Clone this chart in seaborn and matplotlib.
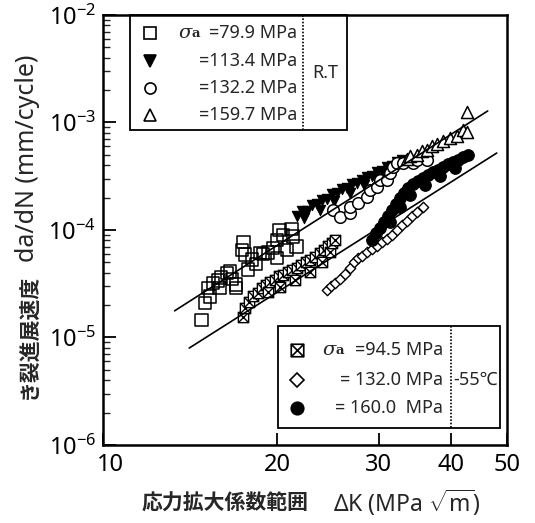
import matplotlib
matplotlib.use("Agg")
import matplotlib.pyplot as plt
import matplotlib.transforms as mtransforms
import seaborn as sns
from matplotlib.patches import Rectangle
from matplotlib.path import Path
from matplotlib.markers import MarkerStyle
from matplotlib.ticker import FixedLocator, FixedFormatter, NullLocator, LogLocator, NullFormatter

# ---- crack growth data: ΔK (MPa√m) vs da/dN (mm/cycle) ----
# Room temperature
k_799 = [14.8, 15.0, 15.2, 15.3, 15.5, 15.8, 15.9, 16.0, 16.4, 16.6, 16.7, 17.0, 17.0, 17.4, 17.5, 17.6,
         17.8, 18.1, 18.4, 18.7, 18.9, 19.3, 19.7, 20.0, 20.0, 20.2, 20.5, 20.8, 21.2, 21.3, 21.6]
d_799 = [1.46e-5, 2.1e-5, 2.9e-5, 2.4e-5, 3.2e-5, 3.4e-5, 2.9e-5, 3.6e-5, 4.0e-5, 4.1e-5, 3.5e-5, 2.9e-5,
         3.1e-5, 6.5e-5, 7.7e-5, 5.9e-5, 4.3e-5, 5.3e-5, 4.8e-5, 6.1e-5, 6.0e-5, 6.2e-5, 6.8e-5, 5.5e-5,
         8.1e-5, 1.0e-4, 9.0e-5, 6.5e-5, 1.02e-4, 8.7e-5, 7.0e-5]

k_1134 = [21.7, 22.1, 22.3, 22.5, 23.0, 23.5, 23.7, 23.9, 24.4, 24.9, 25.1, 25.4, 25.9, 26.4, 26.7, 27.0,
          27.5, 28.1, 28.3, 28.6, 29.2, 29.8, 30.0, 30.4, 31.0, 31.6, 32.3, 32.9]
d_1134 = [1.35e-4, 1.50e-4, 1.30e-4, 1.50e-4, 1.71e-4, 1.75e-4, 1.55e-4, 1.90e-4, 1.94e-4, 2.16e-4, 1.85e-4,
          2.21e-4, 2.40e-4, 2.46e-4, 2.20e-4, 2.68e-4, 2.74e-4, 2.92e-4, 2.60e-4, 3.11e-4, 3.18e-4, 3.47e-4,
          3.00e-4, 3.54e-4, 3.86e-4, 3.94e-4, 4.29e-4, 4.48e-4]

k_1322 = [25.0, 25.7, 26.75, 26.75, 27.6, 28.6, 29.0, 29.8, 30.15, 31.0, 31.4, 31.75, 32.3, 33.0, 34.4, 34.9, 36.35]
d_1322 = [1.53e-4, 1.32e-4, 1.44e-4, 1.64e-4, 1.78e-4, 2.03e-4, 2.35e-4, 2.51e-4, 2.92e-4, 2.92e-4, 3.39e-4,
          3.86e-4, 4.2e-4, 4.2e-4, 4.2e-4, 4.48e-4, 4.48e-4]

k_1597 = [33.6, 34.0, 34.9, 35.6, 36.4, 37.1, 37.8, 38.8, 39.9, 41.0, 42.0, 42.6, 42.6]
d_1597 = [4.6e-4, 4.9e-4, 5.0e-4, 5.4e-4, 5.6e-4, 6.0e-4, 6.3e-4, 6.7e-4, 7.2e-4, 7.5e-4, 8.5e-4, 8.2e-4, 1.25e-3]

# -55 °C
k_945 = [17.47, 17.61, 17.89, 18.18, 18.54, 18.84, 19.14, 19.30, 19.45, 19.84, 20.16, 20.24, 20.49, 20.90,
         21.23, 21.49, 21.66, 22.01, 22.45, 22.81, 22.81, 23.27, 23.74, 23.93, 24.12, 24.51, 24.70, 24.90, 25.20]
d_945 = [1.55e-5, 1.88e-5, 2.14e-5, 2.43e-5, 2.59e-5, 2.89e-5, 3.08e-5, 2.65e-5, 3.28e-5, 3.43e-5, 3.73e-5,
         2.95e-5, 3.81e-5, 4.07e-5, 4.25e-5, 3.43e-5, 4.43e-5, 4.72e-5, 5.04e-5, 5.26e-5, 4.07e-5, 5.61e-5,
         6.11e-5, 5.04e-5, 6.52e-5, 7.10e-5, 6.24e-5, 7.57e-5, 8.07e-5]

k_1320 = [24.42, 24.81, 25.20, 25.70, 26.22, 26.75, 27.18, 27.62, 28.06, 28.62, 29.20, 29.79, 30.39, 31.00,
          31.62, 32.26, 32.91, 33.57, 34.24, 34.94, 35.79]
d_1320 = [2.77e-5, 3.01e-5, 3.21e-5, 3.50e-5, 3.90e-5, 4.43e-5, 5.04e-5, 5.49e-5, 5.73e-5, 6.24e-5, 6.66e-5,
          7.10e-5, 7.73e-5, 8.25e-5, 8.98e-5, 1.00e-4, 1.11e-4, 1.21e-4, 1.35e-4, 1.47e-4, 1.64e-4]

k_1600 = [29.20, 29.67, 30.14, 30.63, 31.12, 31.37, 31.62, 32.14, 32.65, 32.65, 33.18, 33.71, 33.98, 34.39,
          35.08, 35.79, 36.07, 36.50, 37.24, 37.98, 38.29, 38.75, 39.53, 40.33, 40.64, 41.14, 41.97, 42.81]
d_1600 = [8.07e-5, 9.38e-5, 1.04e-4, 1.19e-4, 1.35e-4, 1.19e-4, 1.53e-4, 1.75e-4, 1.99e-4, 1.64e-4, 2.21e-4,
          2.46e-4, 2.12e-4, 2.68e-4, 2.86e-4, 3.05e-4, 2.62e-4, 3.25e-4, 3.47e-4, 3.61e-4, 3.18e-4, 3.86e-4,
          4.11e-4, 4.29e-4, 3.78e-4, 4.48e-4, 4.78e-4, 4.99e-4]

# Paris-law reference lines (end points)
fit_rt_k = [13.3, 46.3]
fit_rt_d = [1.77e-5, 1.28e-3]
fit_lt_k = [14.1, 48.0]
fit_lt_d = [7.98e-6, 5.2e-4]

x_ticks = [10, 20, 30, 40, 50]
x_tick_labels = ["10", "20", "30", "40", "50"]

rt_labels = ["=79.9 MPa", "=113.4 MPa", "=132.2 MPa", "=159.7 MPa"]
lt_labels = ["=94.5 MPa", "= 132.0 MPa", "= 160.0  MPa"]

# ---- style ----
sns.set_theme(style="ticks")
plt.rcParams["font.family"] = ["Noto Sans", "Noto Sans CJK JP", "DejaVu Sans"]
plt.rcParams["mathtext.fontset"] = "custom"
plt.rcParams["mathtext.rm"] = "Noto Sans"
plt.rcParams["mathtext.it"] = "Noto Sans:italic"
plt.rcParams["mathtext.bf"] = "Noto Sans:bold"

fig = plt.figure(figsize=(5.35, 5.23), dpi=100)
ax = fig.add_axes([0.19252, 0.14914, 0.75514, 0.82218])
ax.set_xscale("log")
ax.set_yscale("log")
ax.set_xlim(10, 50)
ax.set_ylim(1e-6, 1e-2)

# square-with-cross marker
xbox = MarkerStyle(Path(
    [(-1, -1), (1, -1), (1, 1), (-1, 1), (-1, -1), (-1, -1), (1, 1), (-1, 1), (1, -1)],
    [Path.MOVETO, Path.LINETO, Path.LINETO, Path.LINETO, Path.CLOSEPOLY,
     Path.MOVETO, Path.LINETO, Path.MOVETO, Path.LINETO]))

series = [
    (k_799, d_799, dict(marker="s", s=80, facecolor="none", edgecolor="black", linewidth=1.1)),
    (k_945, d_945, dict(marker=xbox, s=55, facecolor="white", edgecolor="black", linewidth=1.0)),
    (k_1320, d_1320, dict(marker="D", s=28, facecolor="white", edgecolor="black", linewidth=1.0)),
    (k_1134, d_1134, dict(marker="v", s=55, facecolor="black", edgecolor="black", linewidth=0.8)),
    (k_1322, d_1322, dict(marker="o", s=70, facecolor="white", edgecolor="black", linewidth=1.1)),
    (k_1597, d_1597, dict(marker="^", s=75, facecolor="white", edgecolor="black", linewidth=1.1)),
    (k_1600, d_1600, dict(marker="o", s=70, facecolor="black", edgecolor="black", linewidth=0.8)),
]
for kx, dy, kw in series:
    sns.scatterplot(x=kx, y=dy, ax=ax, legend=False, zorder=3, **kw)

sns.lineplot(x=fit_rt_k, y=fit_rt_d, ax=ax, color="black", linewidth=1.2, zorder=4)
sns.lineplot(x=fit_lt_k, y=fit_lt_d, ax=ax, color="black", linewidth=1.2, zorder=4)

# ---- axes ----
ax.xaxis.set_major_locator(FixedLocator(x_ticks))
ax.xaxis.set_major_formatter(FixedFormatter(x_tick_labels))
ax.xaxis.set_minor_locator(NullLocator())
ax.yaxis.set_major_locator(LogLocator(base=10))
ax.yaxis.set_minor_locator(LogLocator(base=10, subs=range(2, 10)))
ax.yaxis.set_minor_formatter(NullFormatter())
ax.tick_params(which="major", direction="in", length=9, width=1.3, labelsize=17,
               top=False, right=False, color="black", labelcolor="black")
ax.tick_params(which="minor", direction="in", length=5, width=1.0, top=False, right=False)
ax.tick_params(axis="x", pad=6)
ax.tick_params(axis="y", pad=5)
for sp in ax.spines.values():
    sp.set_visible(True)
    sp.set_linewidth(1.8)
    sp.set_color("black")
ax.grid(False)

# the "10" label sits a little to the right of the axis corner
fig.canvas.draw()
first_lab = ax.get_xticklabels()[0]
first_lab.set_transform(first_lab.get_transform()
                        + mtransforms.ScaledTranslation(7 / 100, 0, fig.dpi_scale_trans))

# axis titles
fig.text(0.265, 0.038, "応力拡大係数範囲", fontsize=15, fontweight="bold",
         family="Noto Sans CJK JP", ha="left", va="center")
fig.text(0.622, 0.038, r"ΔK (MPa $\sqrt{\mathrm{m}}$)", fontsize=16.5, ha="left", va="center")
fig.text(0.052, 0.356, "き裂進展速度", fontsize=15, fontweight="bold", rotation=90,
         family="Noto Sans CJK JP", ha="center", va="center")
fig.text(0.052, 0.698, "da/dN (mm/cycle)", fontsize=18, rotation=90, ha="center", va="center")

# ---- legend boxes ----
def axx(px):
    return (px - 103) / 404.0


def axy(py):
    return (445 - py) / 430.0


def legend_box(x0, x1, y0, y1, xdiv):
    ax.add_patch(Rectangle((axx(x0), axy(y1)), axx(x1) - axx(x0), axy(y0) - axy(y1),
                           transform=ax.transAxes, fill=False, edgecolor="black",
                           linewidth=1.3, zorder=5, clip_on=False))
    ax.plot([axx(xdiv), axx(xdiv)], [axy(y0), axy(y1)], transform=ax.transAxes,
            color="black", linestyle=(0, (1, 1)), linewidth=1.2, zorder=5, clip_on=False)


def sigma_a(px, py):
    ax.text(axx(px), axy(py), "σ", transform=ax.transAxes, fontsize=14, style="italic",
            family="DejaVu Serif", ha="left", va="center", zorder=6)
    ax.text(axx(px + 14), axy(py + 1), "a", transform=ax.transAxes, fontsize=9.5, fontweight="bold",
            family="DejaVu Serif", ha="left", va="center", zorder=6)


# room temperature
legend_box(130, 347, 15, 130, 303)
rt_rows = [33, 61, 88, 115]
rt_marks = [dict(marker="s", mfc="none", ms=9), dict(marker="v", mfc="black", ms=8),
            dict(marker="o", mfc="white", ms=8), dict(marker="^", mfc="white", ms=9)]
for py, lab, mk in zip(rt_rows, rt_labels, rt_marks):
    ax.plot([axx(150)], [axy(py)], transform=ax.transAxes, color="black", mec="black",
            mew=1.2, linestyle="none", zorder=6, clip_on=False, **mk)
    ax.text(axx(297), axy(py), lab, transform=ax.transAxes, fontsize=13, ha="right",
            va="center", zorder=6)
sigma_a(178, rt_rows[0])
ax.text(axx(325), axy(73), "R.T", transform=ax.transAxes, fontsize=13, ha="center",
        va="center", zorder=6)

# -55 °C
legend_box(278, 500, 326, 428, 451)
lt_rows = [350, 380, 408]
lt_marks = [dict(marker=xbox, mfc="white", ms=9), dict(marker="D", mfc="white", ms=7),
            dict(marker="o", mfc="black", ms=9)]
for py, lab, mk in zip(lt_rows, lt_labels, lt_marks):
    ax.plot([axx(297)], [axy(py)], transform=ax.transAxes, color="black", mec="black",
            mew=1.2, linestyle="none", zorder=6, clip_on=False, **mk)
    ax.text(axx(443), axy(py), lab, transform=ax.transAxes, fontsize=13, ha="right",
            va="center", zorder=6)
sigma_a(322, lt_rows[0])
ax.text(axx(476), axy(380), "-55℃", transform=ax.transAxes, fontsize=13, ha="center",
        va="center", zorder=6)

fig.savefig("out.png", dpi=100, facecolor="white")
